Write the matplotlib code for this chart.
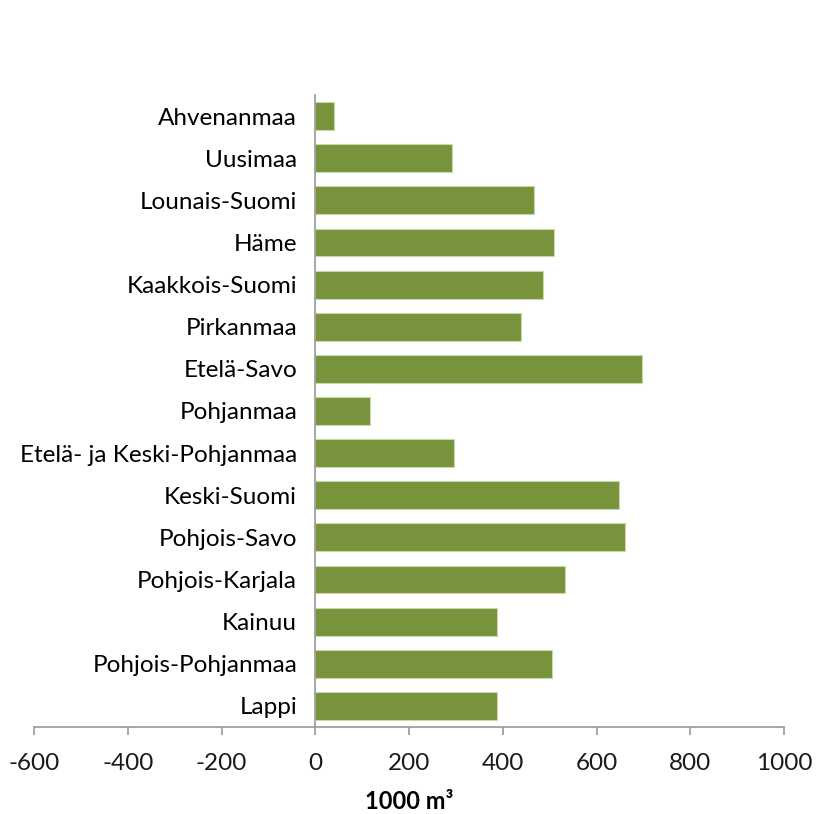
import matplotlib
matplotlib.use("Agg")
import matplotlib.pyplot as plt

# Regions, top to bottom as drawn
regions = [
    "Ahvenanmaa", "Uusimaa", "Lounais-Suomi", "Häme", "Kaakkois-Suomi",
    "Pirkanmaa", "Etelä-Savo", "Pohjanmaa", "Etelä- ja Keski-Pohjanmaa",
    "Keski-Suomi", "Pohjois-Savo", "Pohjois-Karjala", "Kainuu",
    "Pohjois-Pohjanmaa", "Lappi",
]
values = [39, 291, 466, 510, 485, 438, 696, 116, 296, 647, 660, 532, 387, 504, 387]
xticks = [-600, -400, -200, 0, 200, 400, 600, 800, 1000]

BAR = "#77933C"
AXIS = "#989898"

plt.rcParams.update({"font.family": ["Lato", "DejaVu Sans"], "font.size": 17.5})

fig = plt.figure(figsize=(8.17, 8.14), dpi=100)
ax = fig.add_axes([34 / 817, 1 - 727 / 814, 750 / 817, 632 / 814])

pos = list(range(len(regions)))
ax.barh(pos, values, height=0.66, color=BAR, edgecolor="#c9d9a8", linewidth=0.8)

ax.set_ylim(len(regions) - 0.5, -0.5)
ax.set_yticks(pos)
ax.set_yticklabels(regions, color="#1a1a1a")
ax.set_xlim(-600, 1000)
ax.set_xticks(xticks)
ax.set_xticklabels([str(t) for t in xticks], color="#1a1a1a")

for s in ("top", "right"):
    ax.spines[s].set_visible(False)
ax.spines["left"].set_position(("data", 0))
ax.spines["left"].set_color(AXIS)
ax.spines["bottom"].set_color(AXIS)
ax.spines["left"].set_linewidth(1.2)
ax.spines["bottom"].set_linewidth(1.2)

ax.tick_params(axis="y", length=0, pad=13)
ax.tick_params(axis="x", length=6, width=1.2, color=AXIS, direction="out", pad=13)

ax.set_xlabel("1000 m³", fontweight="bold", fontsize=17, labelpad=11)

fig.savefig("out.png", dpi=100)
